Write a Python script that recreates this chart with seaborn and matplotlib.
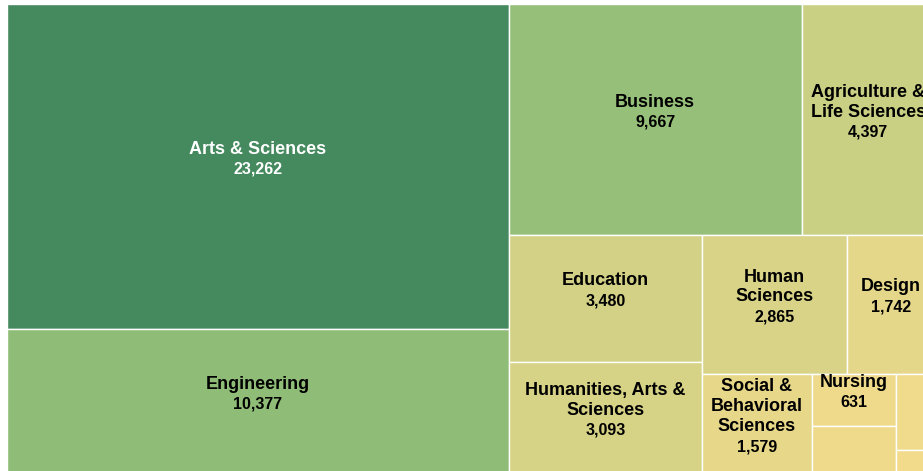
import matplotlib
matplotlib.use('Agg')
import matplotlib.pyplot as plt
from matplotlib.patches import Rectangle
from matplotlib.colors import LinearSegmentedColormap, Normalize
import seaborn as sns

# enrollment by college (last cells are too small to be labelled in the original)
colleges = ['Arts & Sciences', 'Engineering', 'Business', 'Agriculture &\nLife Sciences',
            'Education', 'Humanities, Arts &\nSciences', 'Human\nSciences', 'Design',
            'Social &\nBehavioral\nSciences', 'Nursing', '', '', '']
enrollment = [23262, 10377, 9667, 4397, 3480, 3093, 2865, 1742, 1579, 631, 570, 423, 135]

# yellow -> light green -> dark green
color_stops = [(0.0, '#f3db8c'), (0.45, '#8dbd77'), (1.0, '#448a5e')]


def squarify(values, x0, y0, x1, y1, ratio=(1 + 5 ** 0.5) / 2):
    # squarified layout (golden ratio), rows placed along the shorter side
    rects = [None] * len(values)
    n = len(values)
    total = float(sum(values))
    i0 = i1 = 0
    while i0 < n:
        dx, dy = x1 - x0, y1 - y0
        s = values[i1]
        i1 += 1
        vmin = vmax = s
        alpha = max(dy / dx, dx / dy) / (total * ratio)
        beta = s * s * alpha
        best = max(vmax / beta, beta / vmin)
        while i1 < n:
            v = values[i1]
            s += v
            vmin, vmax = min(vmin, v), max(vmax, v)
            beta = s * s * alpha
            r = max(vmax / beta, beta / vmin)
            if r > best:
                s -= v
                break
            best = r
            i1 += 1
        if dx < dy:
            yb = y0 + dy * s / total
            xx = x0
            for k in range(i0, i1):
                w = dx * values[k] / s
                rects[k] = (xx, y0, w, yb - y0)
                xx += w
            y0 = yb
        else:
            xb = x0 + dx * s / total
            yy = y0
            for k in range(i0, i1):
                h = dy * values[k] / s
                rects[k] = (x0, yy, xb - x0, h)
                yy += h
            x0 = xb
        total -= s
        i0 = i1
    return rects


sns.set_theme(style='white')
plt.rcParams['font.family'] = ['Liberation Sans', 'DejaVu Sans']

cmap = LinearSegmentedColormap.from_list('college', color_stops)
norm = Normalize(min(enrollment), max(enrollment))

fig = plt.figure(figsize=(9.23, 4.71), dpi=100)
ax = fig.add_axes([0, 0, 1, 1])
ax.set_xlim(-7, 916)
ax.set_ylim(467, -4)
ax.axis('off')

rects = squarify(enrollment, 0, 0, 928, 470)
px = 0.72  # points per pixel

for name, val, (x, y, w, h) in zip(colleges, enrollment, rects):
    col = cmap(norm(val))
    ax.add_patch(Rectangle((x, y), w, h, facecolor=col, edgecolor='white', linewidth=1))
    if not name:
        continue
    lum = 0.299 * col[0] + 0.587 * col[1] + 0.114 * col[2]
    tc = 'white' if lum < 0.5 else 'black'
    cx, cy = x + w / 2, y + h / 2
    nlines = name.count('\n') + 1
    block = 20.5 * nlines + 19
    name_dy = -8 - block / 2 + 10.25 * nlines
    val_dy = -8 + block / 2 - 9.5
    ax.annotate(name, (cx, cy), xytext=(0, -name_dy * px), textcoords='offset points',
                ha='center', va='center', fontsize=13, fontweight='bold', color=tc,
                linespacing=1.22, multialignment='center')
    ax.annotate(f'{val:,}', (cx, cy), xytext=(0, -val_dy * px), textcoords='offset points',
                ha='center', va='center', fontsize=11.5, fontweight='bold', color=tc)

fig.savefig('out.png', dpi=100)
